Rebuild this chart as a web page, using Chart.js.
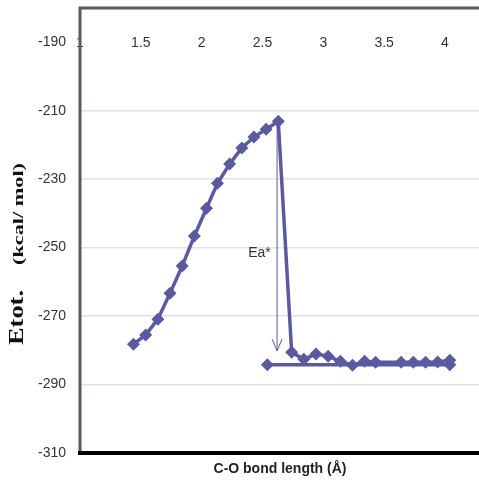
<!DOCTYPE html>
<html>
<head>
<meta charset="utf-8">
<script src="https://cdn.jsdelivr.net/npm/chart.js@4.4.1/dist/chart.umd.min.js"></script>
<style>
  html, body { margin: 0; padding: 0; background: #fff; }
  #wrap { width: 479px; height: 485px; }
</style>
</head>
<body>
<div id="wrap"><canvas id="chart" width="479" height="485"></canvas></div>
<script>
// ── Data ──
const BOND_LEN = [1.44, 1.54, 1.64, 1.74, 1.84, 1.94, 2.04, 2.13, 2.23, 2.33, 2.43, 2.53, 2.63,
                  2.74, 2.84, 2.94, 3.04, 3.14, 3.24, 3.34, 3.43, 3.64, 3.74, 3.84, 3.94, 4.04];
const E_TOT    = [-278.2, -275.5, -270.9, -263.3, -255.4, -246.6, -238.5, -231.2, -225.6, -220.9, -217.7, -215.4, -213.1,
                  -280.6, -282.6, -281.1, -281.7, -283.2, -284.4, -283.2, -283.5, -283.5, -283.5, -283.5, -283.4, -282.9];
const REF_LEN  = [2.54, 4.04];
const REF_E    = [-284.2, -284.2];
const X_TICKS  = [1, 1.5, 2, 2.5, 3, 3.5, 4];
const Y_TICKS  = [-310, -290, -270, -250, -230, -210, -190];
const GRID_Y   = [-290, -270, -250, -230, -210];
// Ea* arrow: from just under the peak down to the product level
const ARROW_X  = 2.62, ARROW_TOP = -214, ARROW_BOT = -280.2;
const EA_LABEL = { text: 'Ea*', x: 2.475, y: -251.6 };

const LINE = '#5a5a9e';
const SANS = '"Liberation Sans", Arial, sans-serif';

const pts = (xs, ys) => xs.map((x, i) => ({ x, y: ys[i] }));

// ── frame, arrow, labels ──
const extras = {
  id: 'extras',
  // the plot runs off the right edge of the picture
  afterLayout(chart) {
    const a = chart.chartArea, x = chart.scales.x;
    a.right = chart.width; a.width = a.right - a.left;
    x.right = chart.width; x.width = x.right - x.left;
    x.configure();
  },
  afterDraw(chart) {
    const { ctx, chartArea: a, scales: { x, y } } = chart;
    ctx.save();

    // arrow
    const ax = x.getPixelForValue(ARROW_X);
    const at = y.getPixelForValue(ARROW_TOP);
    const ab = y.getPixelForValue(ARROW_BOT);
    ctx.strokeStyle = LINE;
    ctx.lineWidth = 1;
    ctx.beginPath();
    ctx.moveTo(ax, at); ctx.lineTo(ax, ab);
    ctx.moveTo(ax - 5, ab - 12); ctx.lineTo(ax, ab); ctx.lineTo(ax + 5, ab - 12);
    ctx.stroke();

    // Ea* label
    ctx.fillStyle = '#333';
    ctx.font = '14px ' + SANS;
    ctx.textAlign = 'center';
    ctx.textBaseline = 'middle';
    ctx.fillText(EA_LABEL.text, x.getPixelForValue(EA_LABEL.x), y.getPixelForValue(EA_LABEL.y));

    // frame
    ctx.lineCap = 'butt';
    ctx.strokeStyle = '#5a5a5a';
    ctx.lineWidth = 3;
    ctx.beginPath();
    ctx.moveTo(a.left - 1.5, a.top); ctx.lineTo(chart.width, a.top);
    ctx.moveTo(a.left, a.top); ctx.lineTo(a.left, a.bottom);
    ctx.stroke();
    ctx.strokeStyle = '#000';
    ctx.lineWidth = 4;
    ctx.beginPath();
    ctx.moveTo(a.left - 2, a.bottom); ctx.lineTo(chart.width, a.bottom);
    ctx.stroke();

    // x title
    ctx.fillStyle = '#222';
    ctx.font = 'bold 14px ' + SANS;
    ctx.textAlign = 'center';
    ctx.textBaseline = 'middle';
    ctx.fillText('C-O bond length (Å)', 280, a.bottom + 16);

    // y title (rotated, two sizes)
    ctx.translate(23, 345);
    ctx.rotate(-Math.PI / 2);
    ctx.textAlign = 'left';
    ctx.textBaseline = 'alphabetic';
    ctx.fillStyle = '#111';
    ctx.font = 'bold 22px "Liberation Serif", serif';
    let w = ctx.measureText('Etot.').width;
    ctx.save(); ctx.scale(55 / w, 1); ctx.fillText('Etot.', 0, 0); ctx.restore();
    ctx.font = 'bold 14px "Liberation Serif", serif';
    w = ctx.measureText('(kcal/ mol)').width;
    ctx.save(); ctx.translate(80, 0); ctx.scale(102 / w, 1); ctx.fillText('(kcal/ mol)', 0, 0); ctx.restore();

    ctx.restore();
  }
};

new Chart(document.getElementById('chart'), {
  type: 'scatter',
  data: {
    datasets: [
      {
        data: pts(BOND_LEN, E_TOT),
        showLine: true,
        borderColor: LINE,
        backgroundColor: LINE,
        borderWidth: 3.5,
        pointStyle: 'rectRot',
        pointRadius: 6.5,
        pointBorderWidth: 0,
      },
      {
        data: pts(REF_LEN, REF_E),
        showLine: true,
        borderColor: LINE,
        backgroundColor: LINE,
        borderWidth: 3.5,
        pointStyle: 'rectRot',
        pointRadius: 6.5,
        pointBorderWidth: 0,
      }
    ]
  },
  options: {
    responsive: false,
    devicePixelRatio: 1,
    animation: false,
    layout: { padding: { left: 0, right: 0, top: 8, bottom: 32 } },
    plugins: { legend: { display: false }, tooltip: { enabled: false } },
    scales: {
      x: {
        type: 'linear',
        min: 1, max: 4.28,
        position: { y: -190 },
        afterBuildTicks: s => { s.ticks = X_TICKS.map(v => ({ value: v })); },
        afterFit: s => { s.paddingLeft = 0; s.paddingRight = 0; },
        grid: { display: false, drawTicks: false },
        border: { display: false },
        ticks: {
          color: '#333', font: { size: 14, family: SANS }, padding: -7, maxRotation: 0, autoSkip: false,
          callback: v => String(v)
        }
      },
      y: {
        type: 'linear',
        min: -310, max: -180,
        afterBuildTicks: s => { s.ticks = Y_TICKS.map(v => ({ value: v })); },
        afterFit: s => { s.width = 80; s.paddingTop = 0; s.paddingBottom = 0; },
        grid: {
          drawTicks: false,
          lineWidth: 1.5,
          color: c => GRID_Y.includes(c.tick && c.tick.value) ? '#e0e0ee' : 'rgba(0,0,0,0)'
        },
        border: { display: false },
        ticks: { color: '#333', font: { size: 14, family: SANS }, padding: 14, autoSkip: false }
      }
    }
  },
  plugins: [extras]
});
</script>
</body>
</html>
